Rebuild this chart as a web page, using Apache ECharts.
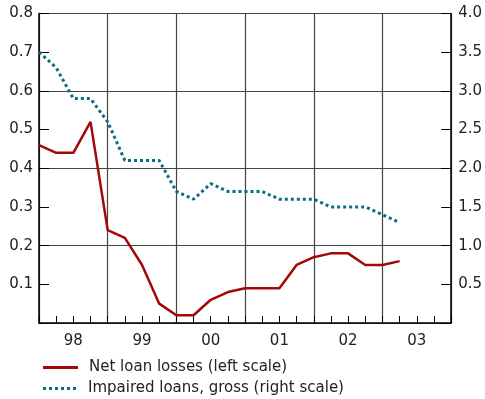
<!DOCTYPE html>
<html><head><meta charset="utf-8">
<script src="https://cdn.jsdelivr.net/npm/echarts@6/dist/echarts.min.js"></script>
<style>html,body{margin:0;padding:0;background:#fff}#c{width:485px;height:399px}</style>
</head><body><div id="c"></div>
<script>
const years = ['98','99','00','01','02','03'];
// quarterly points, quarter index from start of 1998
const netLoanLosses = [0.46,0.44,0.44,0.52,0.24,0.22,0.15,0.05,0.02,0.02,0.06,0.08,0.09,0.09,0.09,0.15,0.17,0.18,0.18,0.15,0.15,0.16];
const impairedLoans = [3.5,3.3,2.9,2.9,2.6,2.1,2.1,2.1,1.7,1.6,1.8,1.7,1.7,1.7,1.6,1.6,1.6,1.5,1.5,1.5,1.4,1.3];
const leftTicks = [0.1,0.2,0.3,0.4,0.5,0.6,0.7,0.8];
const rightTicks = [0.5,1.0,1.5,2.0,2.5,3.0,3.5,4.0];

const F = 'DejaVu Sans';
const FS = 15;
const S1 = 'Net loan losses (left scale)';
const S2 = 'Impaired loans, gross (right scale)';
let dots = '';
for (let i = 0; i < 6; i++) dots += 'M' + (i*6) + ',0h3v3h-3z';
const chart = echarts.init(document.getElementById('c'));
chart.setOption({
  animation:false,
  grid:{left:39,right:31,top:13.5,bottom:76},
  legend:[
    {left:38,top:355,itemWidth:35,itemHeight:3,itemGap:0,
     textStyle:{fontFamily:F,fontSize:FS,color:'#222',padding:[0,0,0,6]},
     data:[{name:S1,icon:'path://M0,0H35V3H0Z'}]},
    {left:38,top:376,itemWidth:35,itemHeight:3,itemGap:0,
     textStyle:{fontFamily:F,fontSize:FS,color:'#222',padding:[0,0,0,6]},
     data:[{name:S2,icon:'path://'+dots}]}
  ],
  xAxis:[
    {type:'value',min:0,max:24,interval:1,position:'bottom',
     axisLine:{show:true,lineStyle:{color:'#000',width:1.5}},
     axisTick:{show:true,inside:true,length:7,lineStyle:{color:'#000'}},
     axisLabel:{show:false},splitLine:{show:false}},
    {type:'category',data:years,boundaryGap:true,position:'bottom',
     axisLine:{show:false},axisTick:{show:false},
     axisLabel:{fontFamily:F,fontSize:FS,color:'#222',margin:11},
     splitLine:{show:true,interval:0,lineStyle:{color:'#444',width:1.2}}}
  ],
  yAxis:[
    {type:'value',min:0,max:0.8,interval:0.1,position:'left',
     axisLine:{show:true,lineStyle:{color:'#000',width:1.5}},
     axisTick:{show:true,inside:true,length:10,lineStyle:{color:'#000'}},
     axisLabel:{fontFamily:F,fontSize:FS,color:'#222',margin:6,
       formatter:v=>leftTicks.some(t=>Math.abs(t-v)<1e-6)?v.toFixed(1):''},
     splitLine:{show:false}},
    {type:'value',min:0,max:4,interval:0.5,position:'right',
     axisLine:{show:true,lineStyle:{color:'#000',width:1.5}},
     axisTick:{show:true,inside:true,length:10,lineStyle:{color:'#000'}},
     axisLabel:{fontFamily:F,fontSize:FS,color:'#222',margin:7,
       formatter:v=>rightTicks.some(t=>Math.abs(t-v)<1e-6)?v.toFixed(1):''},
     splitLine:{show:false}},
    {type:'value',min:0,max:0.8,interval:0.2,position:'left',
     axisLine:{show:false},axisTick:{show:false},axisLabel:{show:false},
     splitLine:{show:true,lineStyle:{color:'#444',width:1.2}}}
  ],
  series:[
    {name:S1,type:'line',xAxisIndex:0,yAxisIndex:0,
     data:netLoanLosses.map((v,i)=>[i,v]),symbol:'none',
     lineStyle:{color:'#a30808',width:2.5},itemStyle:{color:'#a30808'}},
    {name:S2,type:'line',xAxisIndex:0,yAxisIndex:1,
     data:impairedLoans.map((v,i)=>[i,v]),symbol:'none',
     lineStyle:{color:'#0b6e80',width:3,type:[3,3],cap:'butt'},itemStyle:{color:'#0b6e80'}}
  ]
});
</script></body></html>
